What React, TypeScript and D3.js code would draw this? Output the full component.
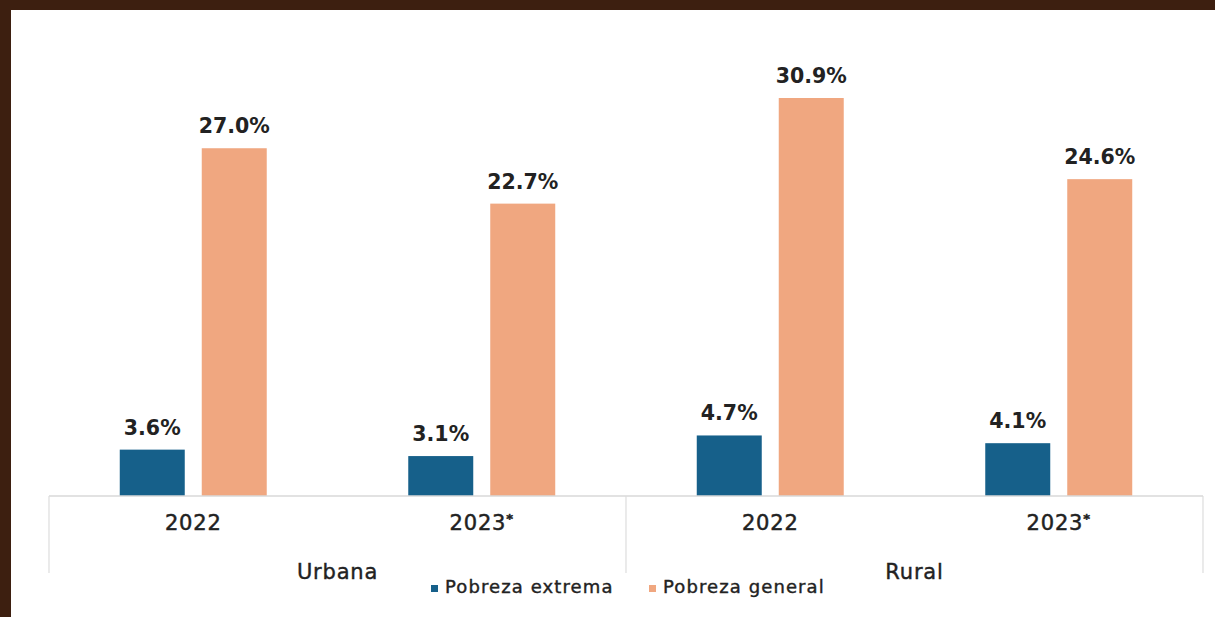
import React from "react";
import * as d3 from "d3";

const areas = ["Urbana", "Rural"];
const years = ["2022", "2023*"];
const categories = ["Urbana|2022", "Urbana|2023*", "Rural|2022", "Rural|2023*"];
const seriesNames = ["Pobreza extrema", "Pobreza general"];
const pobrezaExtrema = [3.6, 3.1, 4.7, 4.1];
const pobrezaGeneral = [27.0, 22.7, 30.9, 24.6];
const seriesColors = ["#16608a", "#f0a780"];

const W = 1215;
const H = 617;
const FONT = "'DejaVu Sans', sans-serif";

export default function App() {
  const left = 49;
  const right = 1203;
  const baseY = 496;
  const x0 = d3.scaleBand<string>().domain(categories).range([left, right]).padding(0);
  const x1 = d3
    .scaleBand<string>()
    .domain(seriesNames)
    .range([0, x0.bandwidth()])
    .paddingInner(0.2073)
    .paddingOuter(0.863);
  const y = d3.scaleLinear().domain([0, 35]).range([baseY, baseY - 12.88 * 35]);
  const values = [pobrezaExtrema, pobrezaGeneral];

  const areaX = d3.scaleBand<string>().domain(areas).range([left, right]);

  return (
    <svg
      width={W}
      height={H}
      style={{ position: "absolute", left: 0, top: 0, display: "block" }}
      fontFamily={FONT}
    >
      <rect x={0} y={0} width={W} height={H} fill="#3d1f10" />
      <rect x={11} y={10} width={W - 11} height={H - 10} fill="#ffffff" />

      {/* bars */}
      {categories.map((c, i) => (
        <g key={c} transform={`translate(${x0(c)},0)`}>
          {seriesNames.map((s, si) => {
            const v = values[si][i];
            const bx = x1(s)!;
            const bw = x1.bandwidth();
            return (
              <g key={s}>
                <rect x={bx} y={y(v)} width={bw} height={baseY - y(v)} fill={seriesColors[si]} />
                <text
                  x={bx + bw / 2}
                  y={y(v) - 15}
                  textAnchor="middle"
                  fontSize={20.5}
                  fontWeight="bold"
                  fill="#222"
                >
                  {v.toFixed(1) + "%"}
                </text>
              </g>
            );
          })}
        </g>
      ))}

      {/* axis */}
      <line x1={left} x2={right} y1={baseY} y2={baseY} stroke="#d9d9d9" strokeWidth={1.5} />
      {[left, areaX(areas[1])!, right].map((xx, i) => (
        <line key={i} x1={xx} x2={xx} y1={baseY} y2={573} stroke="#dddddd" strokeWidth={1.2} />
      ))}

      {/* year labels */}
      {categories.map((c, i) => {
        const yr = years[i % 2];
        const cx = x0(c)! + x0.bandwidth() / 2;
        return (
          <text
            key={c}
            x={cx}
            y={530}
            textAnchor="middle"
            fontSize={21}
            fill="#222"
            stroke="#222"
            strokeWidth={0.5}
            letterSpacing={0.8}
          >
            {yr.endsWith("*") ? (
              <>
                {yr.slice(0, -1)}
                <tspan fontSize={13} fontWeight="bold" dy={-7}>*</tspan>
              </>
            ) : (
              yr
            )}
          </text>
        );
      })}

      {/* area labels */}
      {areas.map((a) => (
        <text
          key={a}
          x={areaX(a)! + areaX.bandwidth() / 2}
          y={579}
          textAnchor="middle"
          fontSize={21}
          fill="#222"
          stroke="#222"
          strokeWidth={0.4}
          letterSpacing={0.8}
        >
          {a}
        </text>
      ))}

      {/* legend */}
      {seriesNames.map((s, si) => {
        const lx = [431, 649][si];
        return (
          <g key={s}>
            <rect x={lx} y={585} width={7} height={7} fill={seriesColors[si]} />
            <text
              x={lx + 14}
              y={593}
              fontSize={18}
              fill="#222"
              stroke="#222"
              strokeWidth={0.4}
              letterSpacing={1.1}
            >
              {s}
            </text>
          </g>
        );
      })}
    </svg>
  );
}
